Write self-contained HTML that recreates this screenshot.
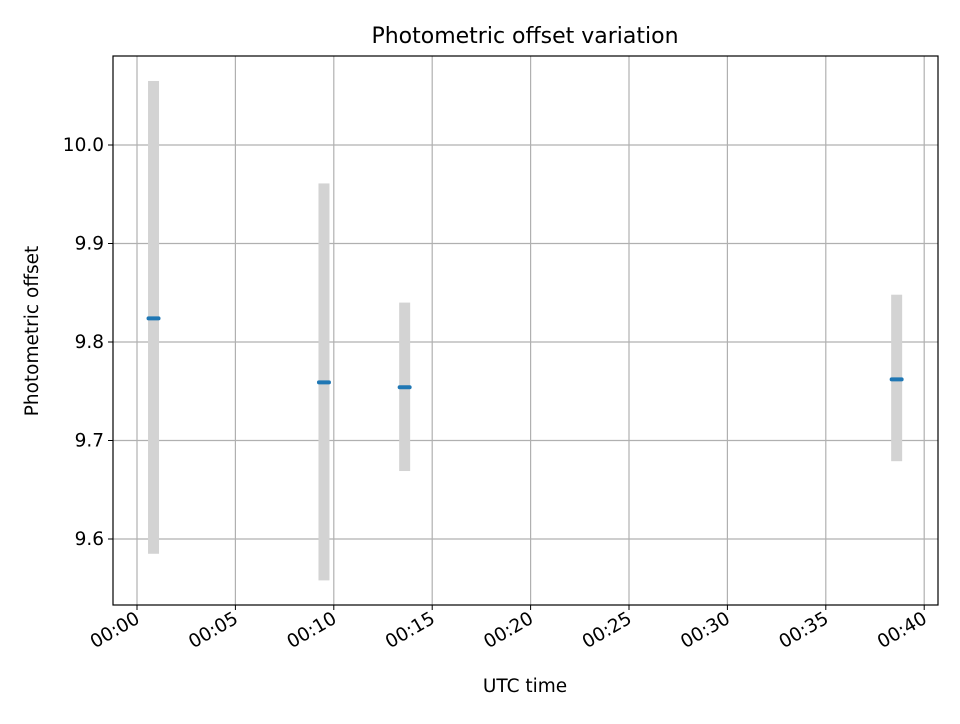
<!DOCTYPE html>
<html><head><meta charset="utf-8"><style>
body{margin:0;background:#fff;font-family:"DejaVu Sans","Liberation Sans",sans-serif;}
</style></head><body>
<svg id="chart" width="960" height="720" xmlns="http://www.w3.org/2000/svg" font-family="'DejaVu Sans','Liberation Sans',sans-serif">
<rect width="960" height="720" fill="#fff"/>
<g id="grid"></g><g id="marks"></g>
<rect x="113" y="56" width="825" height="549" fill="none" stroke="#000" stroke-width="1.2"/>
<g id="ticks"></g>
<text x="525" y="43" text-anchor="middle" style="font-size:22px">Photometric offset variation</text>
<text x="525" y="692" text-anchor="middle" style="font-size:18.5px">UTC time</text>
<text transform="translate(38,331) rotate(-90)" text-anchor="middle" style="font-size:18.5px">Photometric offset</text>
</svg>
<script>
const timesMin=[0.84,9.5,13.6,38.6];
const offsets=[9.824,9.759,9.754,9.762];
const errLow=[9.585,9.558,9.669,9.679];
const errHigh=[10.065,9.961,9.840,9.848];
const xTicks=[0,5,10,15,20,25,30,35,40];
const xTickLabels=["00:00","00:05","00:10","00:15","00:20","00:25","00:30","00:35","00:40"];
const yTicks=[9.6,9.7,9.8,9.9,10.0];
const yTickLabels=["9.6","9.7","9.8","9.9","10.0"];
const NS="http://www.w3.org/2000/svg";
const xs=m=>137+m*19.68;
const ys=v=>145+(10.0-v)*985;
function mk(p,t,a){const e=document.createElementNS(NS,t);for(const k in a)e.setAttribute(k,a[k]);p.appendChild(e);return e;}
const grid=document.getElementById('grid'),ticks=document.getElementById('ticks'),marks=document.getElementById('marks');
xTicks.forEach((t,i)=>{const x=xs(t);
 const g=mk(grid,'line',{x1:x,x2:x,y1:56,y2:605,stroke:'#b0b0b0','stroke-width':1.2});
 
 
 mk(ticks,'line',{x1:x,x2:x,y1:605,y2:610,stroke:'#000','stroke-width':1});
 const tx=mk(ticks,'text',{x:x+4,y:622,'text-anchor':'end',style:'font-size:18.5px',transform:`rotate(-30 ${x+4} 622)`});
 tx.textContent=xTickLabels[i];
 
 
});
yTicks.forEach((t,i)=>{const y=ys(t);
 const g=mk(grid,'line',{x1:113,x2:938,y1:y,y2:y,stroke:'#b0b0b0','stroke-width':1.2});
 
 
 mk(ticks,'line',{x1:108,x2:113,y1:y,y2:y,stroke:'#000','stroke-width':1});
 const tx=mk(ticks,'text',{x:104,y:y+6,'text-anchor':'end',style:'font-size:18.5px'});
 tx.textContent=yTickLabels[i];
 
 
});
timesMin.forEach((t,i)=>{const x=xs(t);
 const b=mk(marks,'rect',{x:x-5.5,y:ys(errHigh[i]),width:11,height:ys(errLow[i])-ys(errHigh[i]),fill:'#d3d3d3'});
 
 
 const p=mk(marks,'line',{x1:x-5,x2:x+5,y1:ys(offsets[i]),y2:ys(offsets[i]),stroke:'#1f77b4','stroke-width':4,'stroke-linecap':'round'});
 
 
});
</script>
</body></html>
